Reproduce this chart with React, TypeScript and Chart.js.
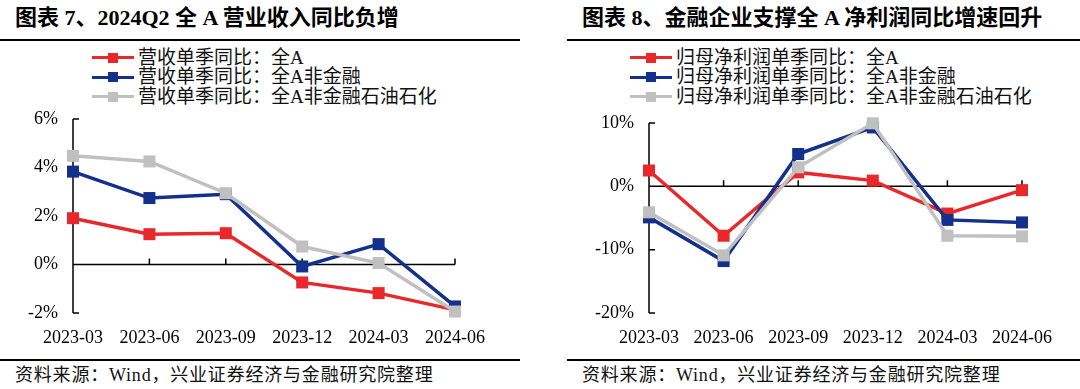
import React, { useEffect, useRef } from "react";
import { Chart, registerables } from "chart.js";
Chart.register(...registerables);

// ---- data ----
const categories = ["2023-03", "2023-06", "2023-09", "2023-12", "2024-03", "2024-06"];

const revenueTitle = "图表 7、2024Q2 全 A 营业收入同比负增";
const revenueLabels = ["营收单季同比：全A", "营收单季同比：全A非金融", "营收单季同比：全A非金融石油石化"];
const revenueAll = [1.91, 1.25, 1.29, -0.74, -1.18, -1.87];
const revenueExFin = [3.83, 2.74, 2.9, -0.08, 0.84, -1.73];
const revenueExFinPetro = [4.48, 4.25, 2.94, 0.74, 0.06, -1.94];
const revenueTicks = [-2, 0, 2, 4, 6];

const profitTitle = "图表 8、金融企业支撑全 A 净利润同比增速回升";
const profitLabels = ["归母净利润单季同比：全A", "归母净利润单季同比：全A非金融", "归母净利润单季同比：全A非金融石油石化"];
const profitAll = [2.5, -7.8, 2.2, 0.9, -4.3, -0.6];
const profitExFin = [-4.9, -11.8, 5.1, 9.3, -5.3, -5.7];
const profitExFinPetro = [-4.1, -10.9, 3.0, 9.95, -7.8, -7.9];
const profitTicks = [-20, -10, 0, 10];

const sourceText = "资料来源：Wind，兴业证券经济与金融研究院整理";

const COLORS = ["#E8282B", "#12308C", "#C0C0C0"];
const SERIF = "'Liberation Serif', 'Times New Roman', 'Noto Sans CJK SC', serif";

const axisPlugin = {
  id: "customAxes",
  beforeDatasetsDraw(chart: any) {
    const { ctx, chartArea, scales } = chart;
    const xs = scales.x;
    const ys = scales.y;
    const y0 = ys.getPixelForValue(0);
    ctx.save();
    ctx.strokeStyle = "#000";
    ctx.lineWidth = 1.5;
    ctx.beginPath();
    ctx.moveTo(chartArea.left, chartArea.top);
    ctx.lineTo(chartArea.left, chartArea.bottom);
    ctx.moveTo(chartArea.left, y0);
    ctx.lineTo(chartArea.right, y0);
    ys.ticks.forEach((t: any) => {
      const py = ys.getPixelForValue(t.value);
      ctx.moveTo(chartArea.left, py);
      ctx.lineTo(chartArea.left + 6, py);
    });
    categories.forEach((_, i) => {
      const px = xs.getPixelForValue(i);
      ctx.moveTo(px, y0);
      ctx.lineTo(px, y0 - 6);
    });
    ctx.stroke();
    ctx.restore();
  },
};

function LineChart(props: {
  left: number;
  series: number[][];
  labels: string[];
  ticks: number[];
  padTop: number;
  yWidth: number;
  padRight: number;
}) {
  const ref = useRef<HTMLCanvasElement>(null);
  useEffect(() => {
    if (!ref.current) return;
    const orders = [2, 1, 0];
    const chart = new Chart(ref.current, {
      type: "line",
      data: {
        labels: categories,
        datasets: props.series.map((s, i) => ({
          label: props.labels[i],
          data: s,
          borderColor: COLORS[i],
          backgroundColor: COLORS[i],
          borderWidth: 3.5,
          pointStyle: "rect",
          pointRadius: 8.5,
          pointBorderWidth: 0,
          pointBackgroundColor: COLORS[i],
          tension: 0,
          clip: false as any,
          order: orders[i],
        })),
      },
      options: {
        responsive: false,
        animation: false,
        devicePixelRatio: 1,
        layout: { padding: { top: props.padTop, right: props.padRight, left: 0, bottom: 0 } },
        plugins: { legend: { display: false }, tooltip: { enabled: false } },
        scales: {
          x: {
            type: "category",
            offset: false,
            grid: { display: false, drawTicks: true, tickLength: 14 },
            border: { display: false },
            ticks: {
              padding: 0,
              color: "#000",
              font: { family: SERIF, size: 18 },
              maxRotation: 0,
              autoSkip: false,
            },
            afterFit: (s: any) => {
              s.height = 42;
            },
          },
          y: {
            min: props.ticks[0],
            max: props.ticks[props.ticks.length - 1],
            afterBuildTicks: (s: any) => {
              s.ticks = props.ticks.map((v) => ({ value: v }));
            },
            grid: { display: false, drawTicks: true, tickLength: 15 },
            border: { display: false },
            ticks: {
              padding: 0,
              color: "#000",
              font: { family: SERIF, size: 18 },
              callback: (v: any) => v + "%",
            },
            afterFit: (s: any) => {
              s.width = props.yWidth;
            },
          },
        },
      },
      plugins: [axisPlugin],
    });
    return () => chart.destroy();
  }, []);
  return (
    <canvas
      ref={ref}
      width={540}
      height={250}
      style={{ position: "absolute", left: props.left, top: 105, width: 540, height: 250 }}
    />
  );
}

function Legend(props: { left: number; labels: string[] }) {
  return (
    <div style={{ position: "absolute", left: props.left, top: 48 }}>
      {props.labels.map((l, i) => (
        <div key={i} style={{ display: "flex", alignItems: "center", height: 19.5 }}>
          <div style={{ position: "relative", width: 42, height: 20 }}>
            <div style={{ position: "absolute", left: 0, top: 8.5, width: 42, height: 3, background: COLORS[i] }} />
            <div style={{ position: "absolute", left: 16, top: 5, width: 10, height: 10, background: COLORS[i] }} />
          </div>
          <span style={{ marginLeft: 4, fontFamily: SERIF, fontSize: 19, lineHeight: "20px", color: "#111", whiteSpace: "nowrap" }}>
            {l}
          </span>
        </div>
      ))}
    </div>
  );
}

function Panel(props: {
  title: string;
  titleLeft: number;
  ruleLeft: number;
  ruleRight: number;
  legendLeft: number;
  labels: string[];
}) {
  return (
    <>
      <div
        style={{
          position: "absolute",
          left: props.titleLeft,
          top: 5,
          fontFamily: SERIF,
          fontWeight: "bold",
          fontSize: 22,
          lineHeight: "26px",
          color: "#000",
          whiteSpace: "nowrap",
        }}
      >
        {props.title}
      </div>
      <div style={{ position: "absolute", left: props.ruleLeft, top: 39, width: props.ruleRight - props.ruleLeft, height: 2, background: "#000" }} />
      <Legend left={props.legendLeft} labels={props.labels} />
      <div style={{ position: "absolute", left: props.ruleLeft, top: 359, width: props.ruleRight - props.ruleLeft, height: 2, background: "#000" }} />
      <div
        style={{
          position: "absolute",
          left: props.titleLeft,
          top: 364,
          fontFamily: SERIF,
          fontSize: 18,
          lineHeight: "22px",
          color: "#111",
          whiteSpace: "nowrap",
          letterSpacing: 0.8,
        }}
      >
        {sourceText}
      </div>
    </>
  );
}

export default function App() {
  return (
    <div style={{ position: "absolute", left: 0, top: 0, width: 1080, height: 389, background: "#fff", overflow: "hidden" }}>
      <Panel title={revenueTitle} titleLeft={15} ruleLeft={0} ruleRight={520} legendLeft={92} labels={revenueLabels} />
      <Panel title={profitTitle} titleLeft={582} ruleLeft={567} ruleRight={1080} legendLeft={630} labels={profitLabels} />
      <LineChart
        left={0}
        series={[revenueAll, revenueExFin, revenueExFinPetro]}
        labels={revenueLabels}
        ticks={revenueTicks}
        padTop={14}
        yWidth={73}
        padRight={85}
      />
      <LineChart
        left={540}
        series={[profitAll, profitExFin, profitExFinPetro]}
        labels={profitLabels}
        ticks={profitTicks}
        padTop={18}
        yWidth={109}
        padRight={58}
      />
    </div>
  );
}
